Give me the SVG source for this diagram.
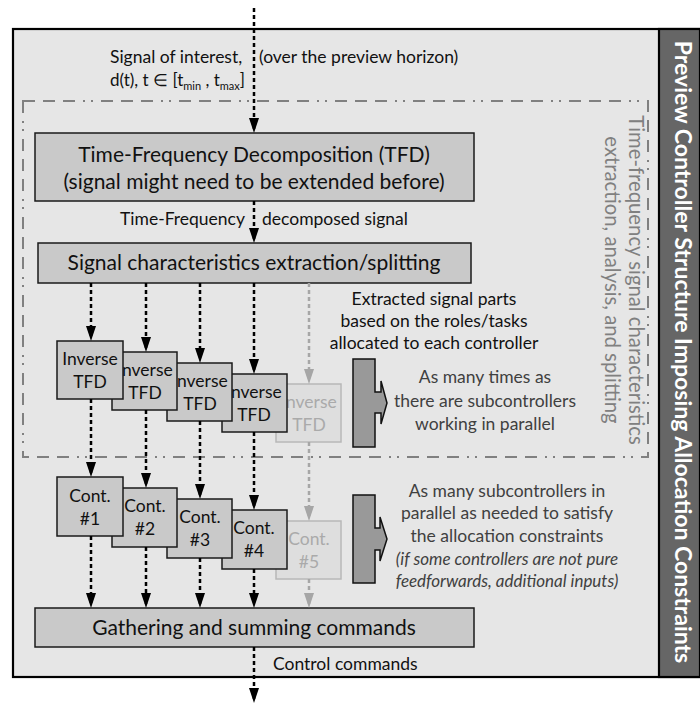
<svg xmlns="http://www.w3.org/2000/svg" width="700" height="706" viewBox="0 0 700 706">
<style>
text{font-family:Lato,"Open Sans","Liberation Sans",sans-serif;}
.box{fill:#c9c9c9;stroke:#1a1a1a;stroke-width:1.5;}
.fbox{fill:#dedede;stroke:#b8b8b8;stroke-width:1.5;}
.big{font-size:21px;fill:#111;text-anchor:middle;}
.mid{font-size:17.5px;fill:#111;text-anchor:middle;}
.fmid{font-size:17.5px;fill:#aaaaaa;text-anchor:middle;}
.lbl{font-size:17.5px;fill:#111;}
.note{font-size:17.5px;fill:#404040;text-anchor:middle;}
.ital{font-size:17px;fill:#404040;text-anchor:middle;font-style:italic;}
.arr{stroke:#000;stroke-width:2.5;stroke-dasharray:4 3;fill:none;marker-end:url(#ah);}
.garr{stroke:#a6a6a6;stroke-width:2.5;stroke-dasharray:4 3;fill:none;marker-end:url(#gah);}
.blk{fill:#999;stroke:#111;stroke-width:1.5;stroke-linejoin:miter;}
</style>
<defs>
<marker id="ah" viewBox="0 0 15 10" refX="11" refY="5" markerWidth="15" markerHeight="10" markerUnits="userSpaceOnUse" orient="auto"><path d="M0,0 L15,5 L0,10 Z" fill="#000"/></marker>
<marker id="gah" viewBox="0 0 15 10" refX="11" refY="5" markerWidth="15" markerHeight="10" markerUnits="userSpaceOnUse" orient="auto"><path d="M0,0 L15,5 L0,10 Z" fill="#a6a6a6"/></marker>
</defs>

<g id="frame">
<rect x="13" y="29" width="686" height="648" fill="#e6e6e6" stroke="#000" stroke-width="2.2"/>
<rect x="659" y="29" width="41" height="648" fill="#666" stroke="#000" stroke-width="2.2"/>
<text transform="translate(675,352) rotate(90)" style="font-size:23px;font-weight:bold;fill:#fff;text-anchor:middle;">Preview Controller Structure Imposing Allocation Constraints</text>
</g>

<g id="tf-region">
<rect x="23" y="101" width="625" height="356" fill="none" stroke="#808080" stroke-width="2" stroke-dasharray="12 8 12 8 12 8 2 6 2 8"/>
<text transform="translate(629,280) rotate(90)" style="font-size:20.3px;fill:#808080;text-anchor:middle;">Time-frequency signal characteristics</text>
<text transform="translate(605,280) rotate(90)" style="font-size:20.3px;fill:#808080;text-anchor:middle;">extraction, analysis, and splitting</text>
</g>

<g id="input-label">
<text class="lbl" x="110" y="63">Signal of interest,</text>
<text class="lbl" x="259" y="63">(over the preview horizon)</text>
<text class="lbl" x="110" y="86" style="font-size:17px;">d(t), t ∈ [t<tspan dy="4" font-size="11">min</tspan><tspan dy="-4"> , t</tspan><tspan dy="4" font-size="11">max</tspan><tspan dy="-4">]</tspan></text>
</g>

<g id="tfd">
<rect class="box" x="35" y="133" width="439" height="68"/>
<text class="big" x="254" y="162">Time-Frequency Decomposition (TFD)</text>
<text class="big" x="254" y="189">(signal might need to be extended before)</text>
</g>

<g id="tfd-label">
<text class="lbl" x="245" y="225" text-anchor="end">Time-Frequency</text>
<text class="lbl" x="262" y="225">decomposed signal</text>
</g>

<g id="splitting">
<rect class="box" x="38" y="243" width="433" height="40"/>
<text class="big" x="254" y="270">Signal characteristics extraction/splitting</text>
</g>

<g id="inverse-tfd">
<g id="inv5"><rect class="fbox" x="276" y="384" width="65" height="58"/><text class="fmid" x="309" y="408">Inverse</text><text class="fmid" x="309" y="431">TFD</text></g>
<g id="inv4"><rect class="box" x="222" y="374" width="65" height="58"/><text class="mid" x="254" y="398">Inverse</text><text class="mid" x="254" y="421">TFD</text></g>
<g id="inv3"><rect class="box" x="167" y="363" width="65" height="58"/><text class="mid" x="200" y="387">Inverse</text><text class="mid" x="200" y="410">TFD</text></g>
<g id="inv2"><rect class="box" x="112" y="352" width="65" height="58"/><text class="mid" x="145" y="376">Inverse</text><text class="mid" x="145" y="399">TFD</text></g>
<g id="inv1"><rect class="box" x="57" y="341" width="66" height="58"/><text class="mid" x="90" y="365">Inverse</text><text class="mid" x="90" y="388">TFD</text></g>
</g>

<g id="controllers">
<g id="cont5"><rect class="fbox" x="276" y="521" width="65" height="58"/><text class="fmid" x="309" y="545">Cont.</text><text class="fmid" x="309" y="568">#5</text></g>
<g id="cont4"><rect class="box" x="222" y="510" width="65" height="59"/><text class="mid" x="254" y="534">Cont.</text><text class="mid" x="254" y="557">#4</text></g>
<g id="cont3"><rect class="box" x="167" y="499" width="65" height="59"/><text class="mid" x="200" y="523">Cont.</text><text class="mid" x="200" y="546">#3</text></g>
<g id="cont2"><rect class="box" x="112" y="488" width="65" height="59"/><text class="mid" x="145" y="512">Cont.</text><text class="mid" x="145" y="535">#2</text></g>
<g id="cont1"><rect class="box" x="57" y="477" width="66" height="59"/><text class="mid" x="90" y="502">Cont.</text><text class="mid" x="90" y="525">#1</text></g>
</g>

<g id="gathering">
<rect class="box" x="35" y="608" width="439" height="39"/>
<text class="big" x="254" y="635">Gathering and summing commands</text>
</g>

<g id="output-label">
<text class="lbl" x="273" y="670">Control commands</text>
</g>

<g id="note-extracted">
<text class="lbl" x="434" y="305" text-anchor="middle">Extracted signal parts</text>
<text class="lbl" x="434" y="327" text-anchor="middle">based on the roles/tasks</text>
<text class="lbl" x="434" y="349" text-anchor="middle">allocated to each controller</text>
</g>

<g id="note-times">
<path class="blk" d="M353,359 H375 V392 H381 V381 L387,403 L381,424 V413 H375 V447 H353 Z"/>
<text class="note" x="485" y="383">As many times as</text>
<text class="note" x="485" y="407">there are subcontrollers</text>
<text class="note" x="485" y="430">working in parallel</text>
</g>

<g id="note-subcontrollers">
<path class="blk" d="M353,495 H375 V528 H380 V517 L387,539 L380,561 V550 H375 V583 H353 Z"/>
<text class="note" x="507" y="497">As many subcontrollers in</text>
<text class="note" x="507" y="519">parallel as needed to satisfy</text>
<text class="note" x="507" y="542">the allocation constraints</text>
<text class="ital" x="507" y="565">(if some controllers are not pure</text>
<text class="ital" x="507" y="587">feedforwards, additional inputs)</text>
</g>

<g id="connectors">
<line class="arr" x1="254" y1="8" x2="254" y2="129"/>
<line class="arr" x1="254" y1="201" x2="254" y2="239"/>
<line class="arr" x1="91" y1="283" x2="91" y2="337"/>
<line class="arr" x1="146" y1="283" x2="146" y2="348"/>
<line class="arr" x1="200" y1="283" x2="200" y2="359"/>
<line class="arr" x1="254" y1="283" x2="254" y2="370"/>
<line class="garr" x1="309" y1="283" x2="309" y2="380"/>
<line class="arr" x1="91" y1="399" x2="91" y2="473"/>
<line class="arr" x1="146" y1="410" x2="146" y2="484"/>
<line class="arr" x1="200" y1="421" x2="200" y2="495"/>
<line class="arr" x1="254" y1="432" x2="254" y2="506"/>
<line class="garr" x1="309" y1="442" x2="309" y2="517"/>
<line class="arr" x1="91" y1="536" x2="91" y2="604"/>
<line class="arr" x1="146" y1="547" x2="146" y2="604"/>
<line class="arr" x1="200" y1="558" x2="200" y2="604"/>
<line class="arr" x1="254" y1="569" x2="254" y2="604"/>
<line class="garr" x1="309" y1="579" x2="309" y2="604"/>
<line class="arr" x1="254" y1="647" x2="254" y2="699"/>
</g>
</svg>
